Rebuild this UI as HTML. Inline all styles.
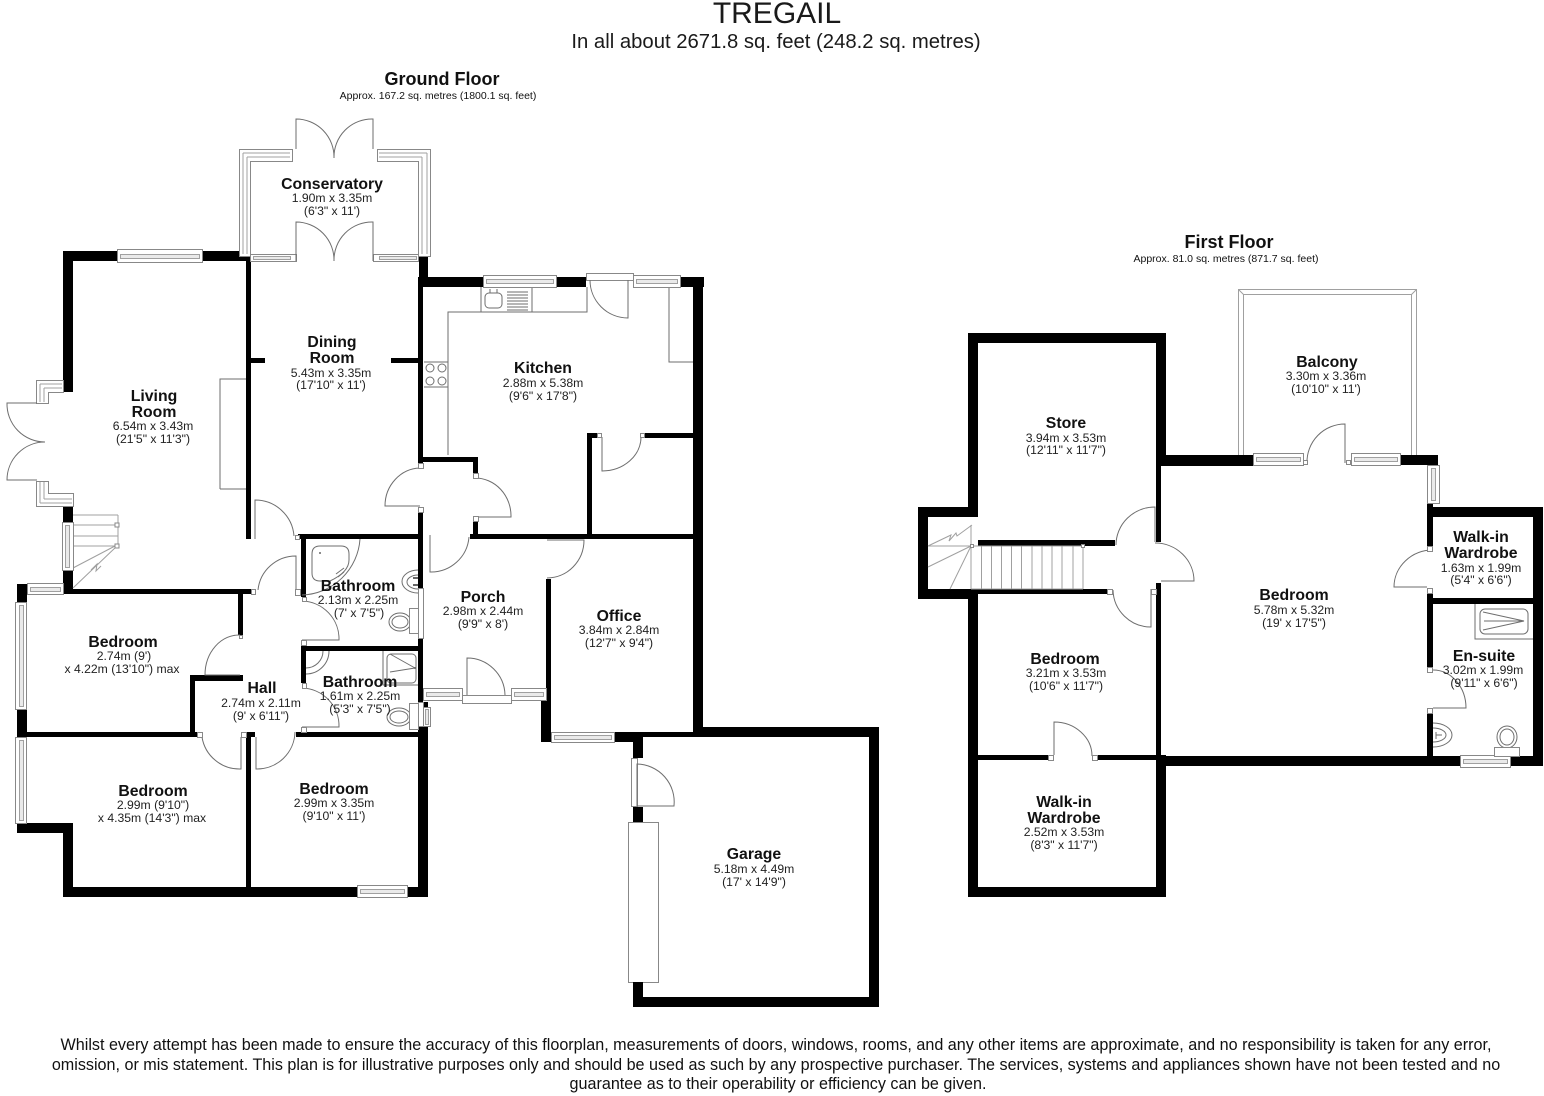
<!DOCTYPE html>
<html lang="en"><head><meta charset="utf-8"><title>Tregail floorplan</title>
<style>
html,body{margin:0;padding:0;background:#fff}
svg{display:block}
text{font-family:"Liberation Sans",sans-serif;fill:#111;text-anchor:middle}
.n{font-size:15.8px;font-weight:bold}
.d{font-size:12.2px;fill:#222}
.w{fill:#000;stroke:none}
.l{fill:none;stroke:#6e6e6e;stroke-width:1}
.c{fill:none;stroke:#a0a0a0;stroke-width:1}
.f{fill:#fff;stroke:#888;stroke-width:1}
.g{fill:#eaeaea;stroke:#a0a0a0;stroke-width:1}
</style></head><body>
<svg xmlns="http://www.w3.org/2000/svg" width="1544" height="1096" viewBox="0 0 1544 1096">
<rect width="1544" height="1096" fill="#fff"/>

<!-- fittings under walls -->
<path class="l" d="M220 489V379H246M220 489H246"/>
<path class="l" d="M448 455V312H587V287M481 287V312M532 287V312M424 362H448M424 387H448M669 287V362H693"/>
<rect class="l" x="485" y="293" width="17" height="15" rx="4"/>
<path class="l" d="M507 292H528M507 295H528M507 298H528M507 301H528M507 304H528M507 307H528M507 310H528"/>
<path class="l" d="M490 293V289M497 293V289"/>
<circle class="l" cx="430" cy="368" r="4"/><circle class="l" cx="442" cy="368" r="4"/><circle class="l" cx="430" cy="381" r="4"/><circle class="l" cx="442" cy="381" r="4"/>
<!-- garage door -->
<rect class="f" x="628.5" y="822.5" width="30" height="160"/>

<!-- ground floor walls -->
<g class="w">
<rect x="63" y="251" width="184" height="10"/>
<rect x="63" y="251" width="10" height="141"/>
<rect x="63" y="505" width="10" height="18"/>
<rect x="63" y="570" width="10" height="24"/>
<rect x="246" y="257" width="5" height="282"/>
<rect x="246" y="358" width="19" height="5"/>
<rect x="391" y="358" width="28" height="5"/>
<rect x="419" y="256" width="9" height="31"/>
<rect x="418" y="277" width="65" height="10"/>
<rect x="556" y="277" width="30" height="10"/>
<rect x="680" y="277" width="24" height="10"/>
<rect x="693" y="277" width="10" height="460"/>
<rect x="418" y="277" width="5" height="186"/>
<rect x="418" y="457" width="60" height="5"/>
<rect x="473" y="457" width="5" height="21"/>
<rect x="473" y="522" width="5" height="15"/>
<rect x="470" y="534" width="223" height="5"/>
<rect x="587" y="433" width="5" height="104"/>
<rect x="587" y="433" width="13" height="5"/>
<rect x="644" y="433" width="49" height="5"/>
<rect x="418" y="512" width="5" height="76"/>
<rect x="418" y="638" width="5" height="69"/>
<rect x="298" y="534" width="125" height="5"/>
<rect x="301" y="534" width="5" height="63"/>
<rect x="301" y="646" width="122" height="5"/>
<rect x="301" y="646" width="5" height="37"/>
<rect x="418" y="702" width="10" height="5"/>
<rect x="418" y="726" width="10" height="171"/>
<rect x="63" y="589" width="189" height="5"/>
<rect x="17" y="584" width="10" height="18"/>
<rect x="17" y="709" width="10" height="28"/>
<rect x="17" y="823" width="56" height="10"/>
<rect x="63" y="823" width="10" height="74"/>
<rect x="63" y="887" width="294" height="10"/>
<rect x="407" y="887" width="21" height="10"/>
<rect x="27" y="732" width="170" height="5"/>
<rect x="190" y="675" width="5" height="62"/>
<rect x="190" y="675" width="53" height="6"/>
<rect x="238" y="594" width="5" height="41"/>
<rect x="246" y="732" width="9" height="5"/>
<rect x="246" y="732" width="5" height="160"/>
<rect x="296" y="732" width="127" height="5"/>
<rect x="546" y="579" width="5" height="121"/>
<rect x="541" y="700" width="10" height="42"/>
<rect x="541" y="732" width="10" height="10"/>
<rect x="614" y="732" width="29" height="10"/>
<rect x="551" y="732" width="63" height="1"/>
<rect x="693" y="727" width="186" height="10"/>
<rect x="643" y="732" width="50" height="5"/>
<rect x="869" y="727" width="10" height="280"/>
<rect x="633" y="997" width="246" height="10"/>
<rect x="633" y="732" width="10" height="26"/>
<rect x="633" y="807" width="10" height="15"/>
<rect x="633" y="982" width="10" height="25"/>
</g>

<!-- first floor walls -->
<g class="w">
<rect x="968" y="333" width="198" height="10"/>
<rect x="968" y="333" width="10" height="184"/>
<rect x="918" y="507" width="60" height="10"/>
<rect x="918" y="507" width="10" height="92"/>
<rect x="918" y="589" width="60" height="10"/>
<rect x="978" y="589" width="129" height="5"/>
<rect x="968" y="589" width="10" height="308"/>
<rect x="1156" y="333" width="10" height="122"/>
<rect x="1156" y="455" width="97" height="11"/>
<rect x="1156" y="455" width="5" height="87"/>
<rect x="978" y="540" width="137" height="6"/>
<rect x="1156" y="583" width="5" height="172"/>
<rect x="978" y="755" width="71" height="5"/>
<rect x="1097" y="755" width="64" height="5"/>
<rect x="1156" y="755" width="10" height="142"/>
<rect x="968" y="887" width="198" height="10"/>
<rect x="1400" y="455" width="38" height="10"/>
<rect x="1427" y="503" width="6" height="43"/>
<rect x="1427" y="507" width="116" height="10"/>
<rect x="1533" y="507" width="10" height="259"/>
<rect x="1427" y="592" width="6" height="75"/>
<rect x="1433" y="598" width="100" height="6"/>
<rect x="1427" y="713" width="6" height="44"/>
<rect x="1161" y="756" width="299" height="10"/>
<rect x="1510" y="756" width="33" height="10"/>
</g>

<!-- living room stairs -->
<path class="c" d="M73 515H118M73 525H118M73 536H118M73 546H117M118 515V546M117 546L73 588M115 546L73 568M91 570l6-6-1 7 5-5"/>
<rect class="f" x="115" y="523" width="4" height="4"/><rect class="f" x="115" y="544" width="4" height="4"/>

<!-- windows -->
<g>
<rect class="f" x="117.5" y="249.5" width="85" height="13"/><rect class="g" x="120.5" y="254.5" width="79" height="4"/>
<rect class="f" x="483.5" y="275.5" width="73" height="12"/><rect class="g" x="486.5" y="279.5" width="67" height="4"/>
<rect class="f" x="633.5" y="275.5" width="47" height="12"/><rect class="g" x="636.5" y="279.5" width="41" height="4"/>
<rect class="f" x="357.5" y="885.5" width="50" height="12"/><rect class="g" x="360.5" y="889.5" width="44" height="4"/>
<rect class="f" x="27.5" y="583.5" width="36" height="11"/><rect class="g" x="30.5" y="587.5" width="30" height="4"/>
<rect class="f" x="15.5" y="602.5" width="11" height="107"/><rect class="g" x="19.5" y="605.5" width="4" height="101"/>
<rect class="f" x="15.5" y="737.5" width="11" height="86"/><rect class="g" x="19.5" y="740.5" width="4" height="80"/>
<rect class="f" x="62.5" y="522.5" width="11" height="48"/><rect class="g" x="65.5" y="525.5" width="4" height="42"/>
<rect class="f" x="423.5" y="688.5" width="39" height="12"/><rect class="g" x="426.5" y="692.5" width="33" height="4"/>
<rect class="f" x="511.5" y="688.5" width="35" height="12"/><rect class="g" x="514.5" y="692.5" width="29" height="4"/>
<rect class="f" x="551.5" y="732.5" width="63" height="10"/><rect class="g" x="554.5" y="735.5" width="57" height="4"/>
<rect class="f" x="462.5" y="695.5" width="49" height="8"/>
<rect class="f" x="418.5" y="588.5" width="5" height="50"/>
<rect class="f" x="423.5" y="707.5" width="7" height="19"/><rect class="g" x="425.5" y="709.5" width="3" height="15"/>
<rect class="f" x="418.5" y="702.5" width="5" height="24"/>
<rect class="f" x="631.5" y="758.5" width="6" height="48"/>
<rect class="f" x="586.5" y="273.5" width="47" height="7"/>
<!-- conservatory frames -->
<path class="f" d="M239.5 149.5H292.5V161.5H250.5V256.5H239.5Z"/>
<path class="c" d="M243 153H290M243 153V254M247 157H290M247 157V254"/>
<path class="f" d="M430.5 149.5H377.5V161.5H418.5V256.5H430.5Z"/>
<path class="c" d="M427 153H379M427 153V254M422 157H379M422 157V254"/>
<rect class="f" x="250.5" y="254.5" width="46" height="7"/><rect class="g" x="253.5" y="256.5" width="37" height="3"/>
<rect class="f" x="373.5" y="254.5" width="45" height="7"/><rect class="g" x="379.5" y="256.5" width="37" height="3"/>
<!-- living bay -->
<path class="f" d="M36.5 380.500H63.5V392.500H48.5V403.500H36.5Z"/>
<path class="c" d="M40 384H62M40 384V402M44 388H62M44 388V402"/>
<path class="f" d="M36.5 481.500H48.5V493.500H73.5V506.500H36.5Z"/>
<path class="c" d="M40 503H72M40 482V503M44 499H72M44 482V499"/>
<!-- first floor -->
<rect class="f" x="1253.5" y="453.5" width="50" height="12"/><rect class="g" x="1256.5" y="457.5" width="44" height="4"/>
<rect class="f" x="1351.5" y="453.5" width="49" height="12"/><rect class="g" x="1354.5" y="457.5" width="43" height="4"/>
<rect class="f" x="1427.5" y="465.5" width="12" height="38"/><rect class="g" x="1431.5" y="468.5" width="4" height="32"/>
<rect class="f" x="1460.5" y="755.5" width="50" height="12"/><rect class="g" x="1463.5" y="759.5" width="44" height="4"/>
</g>

<!-- door leaves & arcs -->
<path class="l" d="M296 149V119A38 38 0 0 1 334 158M373 149V119A38 38 0 0 0 334 158"/>
<path class="l" d="M296 261V222A38 38 0 0 1 334 261M373 261V222A38 38 0 0 0 334 261"/>
<path class="l" d="M37 403H7A38 38 0 0 0 45 442M37 480H7A38 38 0 0 1 45 442"/>
<path class="l" d="M255 539V500A39 39 0 0 1 294 536"/>
<path class="l" d="M296 594V556A38 38 0 0 0 258 590"/>
<path class="l" d="M302 640H339A38 38 0 0 0 302 601"/>
<path class="l" d="M302 727H339A38 38 0 0 0 302 688"/>
<path class="l" d="M240 675H205A34 40 0 0 1 240 635"/>
<path class="l" d="M241 737V769A38 38 0 0 1 202 737"/>
<path class="l" d="M256 737V769A38 38 0 0 0 295 732"/>
<path class="l" d="M420 506H385A36 38 0 0 1 420 468"/>
<path class="l" d="M474 517H511A36 38 0 0 0 475 478"/>
<path class="l" d="M430 535V572A38 38 0 0 0 469 537"/>
<path class="l" d="M547 540H584A37 38 0 0 1 547 578"/>
<path class="l" d="M467 695V658A38 38 0 0 1 505 695"/>
<path class="l" d="M628 280V318A38 38 0 0 1 590 280"/>
<path class="l" d="M602 437V471A39 34 0 0 0 641 437"/>
<path class="l" d="M637 806H674A38 38 0 0 0 637 764V806"/>
<path class="l" d="M1155 542V507A39 38 0 0 0 1116 545"/>
<path class="l" d="M1155 543A39 38 0 0 1 1194 581H1161"/>
<path class="l" d="M1151 589V627A38 38 0 0 1 1113 590"/>
<path class="l" d="M1054 755V722A38 34 0 0 1 1092 756"/>
<path class="l" d="M1345 463V424A38 38 0 0 0 1307 463"/>
<path class="l" d="M1433 550A39 37 0 0 0 1394 587H1427"/>
<path class="l" d="M1433 670A33 38 0 0 1 1466 708H1433"/>

<!-- door jamb squares -->
<g class="f">
<rect x="295.5" y="535.5" width="4" height="4"/><rect x="251.5" y="589.5" width="4" height="5"/>
<rect x="295.5" y="589.5" width="5" height="6"/><rect x="302.5" y="597.5" width="4" height="4"/>
<rect x="301.5" y="640.5" width="5" height="5"/><rect x="302.5" y="683.5" width="4" height="5"/>
<rect x="301.5" y="727.5" width="5" height="5"/><rect x="197.5" y="732.5" width="5" height="5"/>
<rect x="241.5" y="732.5" width="5" height="5"/><rect x="239.5" y="635.5" width="3" height="3"/>
<rect x="418.5" y="463.5" width="5" height="5"/><rect x="418.5" y="507.5" width="5" height="5"/>
<rect x="473.5" y="473.5" width="5" height="5"/><rect x="473.5" y="516.5" width="5" height="5"/>
<rect x="597.5" y="433.5" width="4" height="4"/><rect x="640.5" y="433.5" width="4" height="4"/>
<rect x="1048.5" y="755.5" width="5" height="5"/><rect x="1092.5" y="755.5" width="5" height="5"/>
<rect x="1107.5" y="589.5" width="5" height="5"/><rect x="1151.5" y="589.5" width="5" height="5"/>
<rect x="1427.5" y="546.5" width="5" height="5"/><rect x="1427.5" y="588.5" width="5" height="5"/>
<rect x="1427.5" y="667.5" width="5" height="5"/><rect x="1427.5" y="708.5" width="5" height="5"/>
<rect x="1303.5" y="460.5" width="4" height="4"/><rect x="1346.5" y="460.5" width="4" height="4"/>
</g>

<!-- bath fittings -->
<path class="l" d="M320 546H341Q349 546 349 554V560Q349 572 330 581H320Q312 581 312 573V554Q312 546 320 546Z"/>
<circle cx="320" cy="553" r="1" fill="#666"/>
<path class="l" d="M336 574l8-6M338 577l6-5"/>
<path class="l" d="M360 539A60 60 0 0 1 302 595"/>
<path class="l" d="M418 570A16 11.500 0 0 0 418 593"/><path class="l" d="M418 575A11 7 0 0 0 418 589"/>
<path fill="#666" d="M413 577h5v2h-5zM413 584h5v2h-5z"/>
<ellipse class="l" cx="400" cy="622" rx="11" ry="9"/><ellipse class="l" cx="400" cy="622" rx="8" ry="6"/>
<rect class="f" x="409.5" y="608.5" width="9" height="25"/>
<path class="l" d="M306 674A23 23 0 0 0 329 651M306 668A17 17 0 0 0 323 651"/>
<path class="l" d="M383 651V685H418"/>
<rect class="l" x="387" y="654" width="29" height="29" rx="4"/>
<path class="l" d="M390 672L415 668M390 654L415 668"/>
<circle cx="415" cy="668" r="1" fill="#666"/>
<ellipse class="l" cx="399" cy="717" rx="12" ry="9"/><ellipse class="l" cx="399" cy="717" rx="9" ry="6"/>
<rect class="f" x="409.5" y="703.5" width="9" height="26"/>

<!-- first floor stairs -->
<path class="c" d="M971 525V589M971 546H1083V589M971 589H1083M928 546H971M971 546L928 567M971 546L950 589M928 546L951 535l-2 6 7-8 1 3 15-11"/>
<path class="c" d="M981.5 546V589M991.5 546V589M1001.5 546V589M1011.5 546V589M1021.5 546V589M1032 546V589M1042 546V589M1052 546V589M1062 546V589M1073 546V589"/>
<rect class="f" x="970.5" y="544.5" width="3" height="3"/><rect class="f" x="1081.5" y="544.5" width="3" height="3"/>

<!-- balcony -->
<path class="c" d="M1238.5 455V289.5H1416.5V455M1243.5 455V294.5H1411.5V455M1238.5 289.5L1243.5 294.5M1416.5 289.5L1411.5 294.5"/>

<!-- ensuite -->
<path class="l" d="M1475 604V639H1533"/>
<rect class="l" x="1480" y="609" width="48" height="25" rx="5"/>
<path class="l" d="M1483 612L1524 621L1483 630M1484 621H1524"/>
<path class="l" d="M1433 723A19 12 0 0 1 1433 747M1433 728A13 7 0 0 1 1433 742"/>
<path class="l" d="M1436 735h6M1436 732v7"/>
<ellipse class="l" cx="1507" cy="737" rx="10" ry="11"/><ellipse class="l" cx="1507" cy="737" rx="7" ry="8"/>
<rect class="f" x="1494.5" y="747.5" width="25" height="9"/>

<!-- headings -->
<text x="777" y="23" font-size="30" style="fill:#1a1a1a">TREGAIL</text>
<text x="776" y="48" font-size="20.3" style="fill:#1a1a1a">In all about 2671.8 sq. feet (248.2 sq. metres)</text>
<text x="442" y="85" font-size="18" font-weight="bold">Ground Floor</text>
<text x="438" y="99" font-size="10.5">Approx. 167.2 sq. metres (1800.1 sq. feet)</text>
<text x="1229" y="248" font-size="18" font-weight="bold">First Floor</text>
<text x="1226" y="262" font-size="10.5">Approx. 81.0 sq. metres (871.7 sq. feet)</text>

<!-- room labels -->
<text class="n" x="332" y="189">Conservatory</text><text class="d" x="332" y="202">1.90m x 3.35m</text><text class="d" x="332" y="215">(6'3" x 11')</text>
<text class="n" x="332" y="347">Dining</text><text class="n" x="332" y="363">Room</text><text class="d" x="331" y="377">5.43m x 3.35m</text><text class="d" x="331" y="389">(17'10" x 11')</text>
<text class="n" x="154" y="401">Living</text><text class="n" x="154" y="417">Room</text><text class="d" x="153" y="430">6.54m x 3.43m</text><text class="d" x="153" y="443">(21'5" x 11'3")</text>
<text class="n" x="543" y="373">Kitchen</text><text class="d" x="543" y="387">2.88m x 5.38m</text><text class="d" x="543" y="400">(9'6" x 17'8")</text>
<text class="n" x="123" y="647">Bedroom</text><text class="d" x="124" y="660">2.74m (9')</text><text class="d" x="122" y="673">x 4.22m (13'10") max</text>
<text class="n" x="262" y="693">Hall</text><text class="d" x="261" y="707">2.74m x 2.11m</text><text class="d" x="261" y="720">(9' x 6'11")</text>
<text class="n" x="358" y="591">Bathroom</text><text class="d" x="358" y="604">2.13m x 2.25m</text><text class="d" x="359" y="617">(7' x 7'5")</text>
<text class="n" x="360" y="687">Bathroom</text><text class="d" x="360" y="700">1.61m x 2.25m</text><text class="d" x="360" y="713">(5'3" x 7'5")</text>
<text class="n" x="153" y="796">Bedroom</text><text class="d" x="153" y="809">2.99m (9'10")</text><text class="d" x="152" y="822">x 4.35m (14'3") max</text>
<text class="n" x="334" y="794">Bedroom</text><text class="d" x="334" y="807">2.99m x 3.35m</text><text class="d" x="334" y="820">(9'10" x 11')</text>
<text class="n" x="483" y="602">Porch</text><text class="d" x="483" y="615">2.98m x 2.44m</text><text class="d" x="483" y="628">(9'9" x 8')</text>
<text class="n" x="619" y="621">Office</text><text class="d" x="619" y="634">3.84m x 2.84m</text><text class="d" x="619" y="647">(12'7" x 9'4")</text>
<text class="n" x="754" y="859">Garage</text><text class="d" x="754" y="873">5.18m x 4.49m</text><text class="d" x="754" y="886">(17' x 14'9")</text>
<text class="n" x="1066" y="428">Store</text><text class="d" x="1066" y="442">3.94m x 3.53m</text><text class="d" x="1066" y="454">(12'11" x 11'7")</text>
<text class="n" x="1065" y="664">Bedroom</text><text class="d" x="1066" y="677">3.21m x 3.53m</text><text class="d" x="1066" y="690">(10'6" x 11'7")</text>
<text class="n" x="1064" y="807">Walk-in</text><text class="n" x="1064" y="823">Wardrobe</text><text class="d" x="1064" y="836">2.52m x 3.53m</text><text class="d" x="1064" y="849">(8'3" x 11'7")</text>
<text class="n" x="1327" y="367">Balcony</text><text class="d" x="1326" y="380">3.30m x 3.36m</text><text class="d" x="1326" y="393">(10'10" x 11')</text>
<text class="n" x="1294" y="600">Bedroom</text><text class="d" x="1294" y="614">5.78m x 5.32m</text><text class="d" x="1294" y="627">(19' x 17'5")</text>
<text class="n" x="1481" y="542">Walk-in</text><text class="n" x="1481" y="558">Wardrobe</text><text class="d" x="1481" y="572">1.63m x 1.99m</text><text class="d" x="1481" y="584">(5'4" x 6'6")</text>
<text class="n" x="1484" y="661">En-suite</text><text class="d" x="1483" y="674">3.02m x 1.99m</text><text class="d" x="1484" y="687">(9'11" x 6'6")</text>

<!-- disclaimer -->
<g font-size="16.15" style="fill:#222">
<text x="776" y="1050">Whilst every attempt has been made to ensure the accuracy of this floorplan, measurements of doors, windows, rooms, and any other items are approximate, and no responsibility is taken for any error,</text>
<text x="776" y="1070">omission, or mis statement. This plan is for illustrative purposes only and should be used as such by any prospective purchaser. The services, systems and appliances shown have not been tested and no</text>
<text x="778" y="1089">guarantee as to their operability or efficiency can be given.</text>
</g>
</svg>
</body></html>
